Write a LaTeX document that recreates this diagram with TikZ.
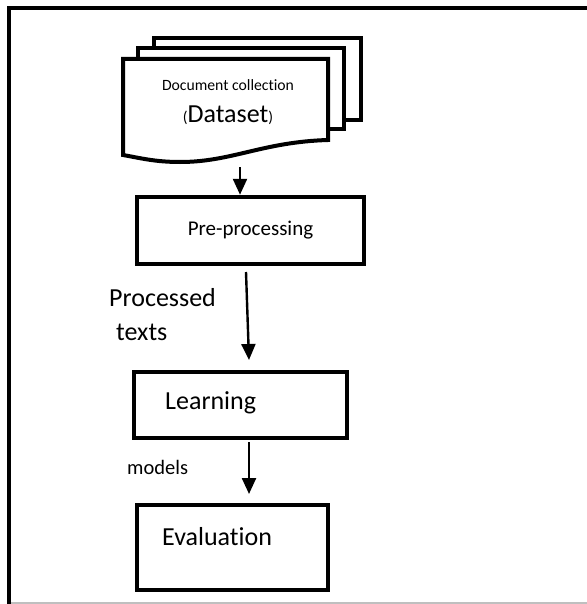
\documentclass[tikz,border=0pt]{standalone}
\usepackage{fontspec}
\setmainfont{Carlito}[Ligatures={NoCommon,NoContextual}]
\usetikzlibrary{arrows.meta}
\tikzset{
  box/.style={draw, line width=4.5pt, rectangle, inner sep=0pt, fill=white},
  sheet/.style={draw, line width=4pt, fill=white, line join=miter},
  arr/.style={draw, line width=2.4pt, -{Triangle[length=16pt,width=14pt]}},
  lbl/.style={inner sep=0pt, text=black},
}
\begin{document}
\begin{tikzpicture}[x=1pt,y=-1pt]
\useasboundingbox (0,0) rectangle (586,604);
% frame
\draw[line width=4pt] (9,604) -- (9,8) -- (590,8);
\draw[line width=1.5pt, black!25] (11,603) -- (590,603);
% document stack
\draw[sheet] (154,38) rectangle (361,120);
\draw[sheet] (138,48) rectangle (344,129);
\draw[sheet] (123,59) -- (328,59) -- (328,140)
   .. controls (262,142) and (232,162) .. (180,162)
   .. controls (155,162) and (140,158) .. (123,155) -- cycle;
\node[lbl, font=\fontsize{15.7}{18}\selectfont] (doctitle) at (228,85) {Document collection};
\node[lbl, anchor=base] (dataset) at (228,123) {\fontsize{15.7}{18}\selectfont(\fontsize{26}{30}\selectfont Dataset\fontsize{15.7}{18}\selectfont)};
\coordinate (docb) at (240,167);
% boxes
\node[box, minimum width=227pt, minimum height=67pt, font=\fontsize{21}{25}\selectfont] (pre) at (250.5,230.5) {Pre-processing};
\node[box, minimum width=213pt, minimum height=66pt] (learn) at (240.5,405) {};
\node[lbl, anchor=west, font=\fontsize{26}{30}\selectfont] (learnt) at (165,403) {Learning};
\node[box, minimum width=191pt, minimum height=85pt] (eval) at (232.5,547.5) {};
\node[lbl, anchor=west, font=\fontsize{26}{30}\selectfont] (evalt) at (162,537) {Evaluation};
% labels
\node[lbl, anchor=west, font=\fontsize{26}{30}\selectfont] (proc1) at (109,298) {Processed};
\node[lbl, anchor=west, font=\fontsize{26}{30}\selectfont] (proc2) at (116,332) {texts};
\node[lbl, anchor=west, font=\fontsize{20.5}{24}\selectfont] (models) at (127,467) {models};
% arrows
\coordinate (a2s) at (246,272);
\coordinate (a2e) at (249,360);
\coordinate (a3s) at (249,442);
\coordinate (a3e) at (249,494);
\draw[arr] (docb) -- (docb |- pre.north);
\draw[arr] (a2s) -- (a2e);
\draw[arr] (a3s) -- (a3e);
\end{tikzpicture}
\end{document}
